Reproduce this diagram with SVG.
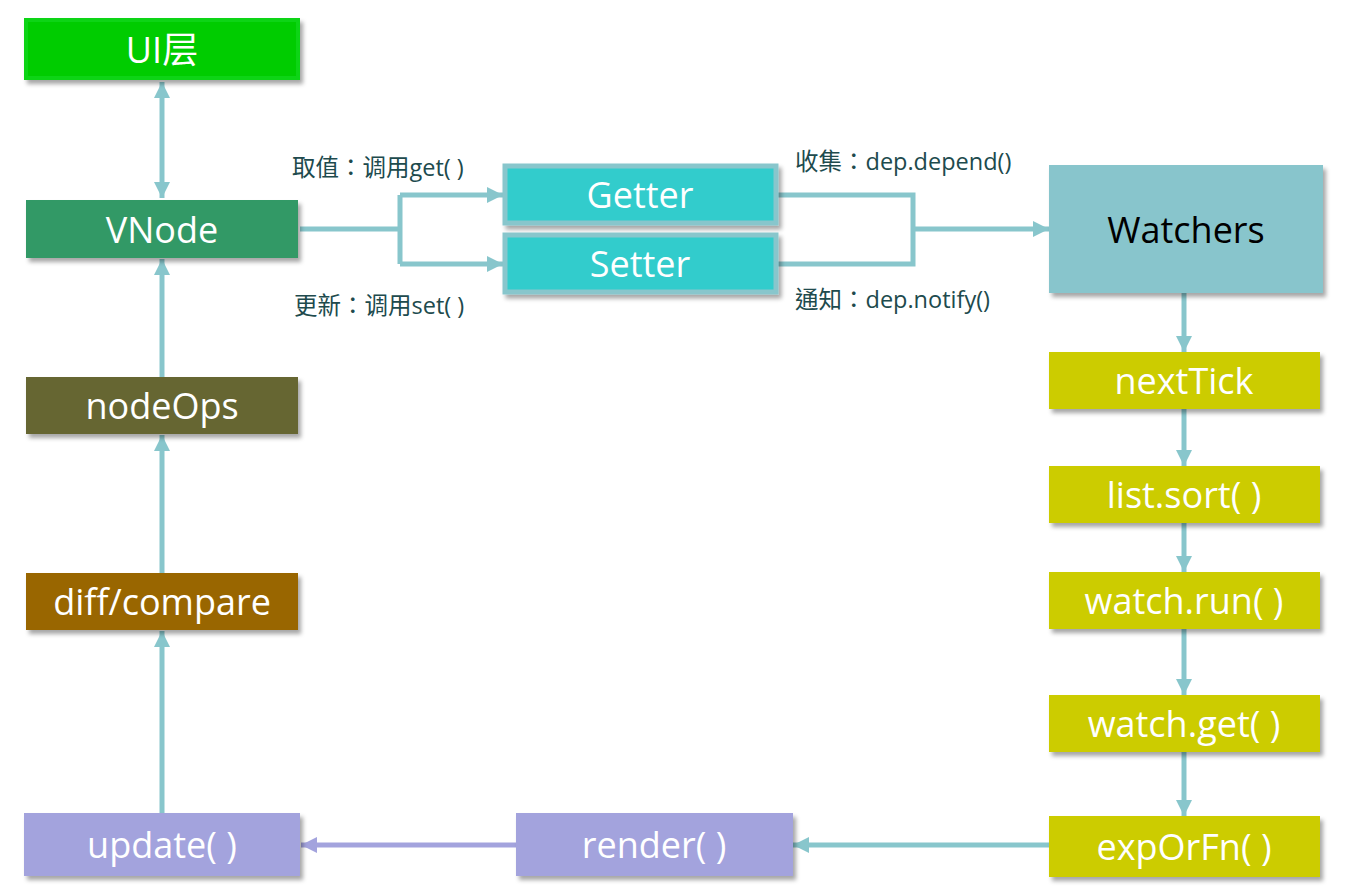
<svg xmlns="http://www.w3.org/2000/svg" width="1346" height="895" viewBox="0 0 1346 895">
<style>
.t{font-family:"Open Sans","Noto Sans","Noto Sans CJK SC",sans-serif;font-size:36px;fill:#fff;text-anchor:middle;dominant-baseline:central}
.lbl{font-family:"Open Sans","Noto Sans CJK TC","Noto Sans CJK SC",sans-serif;font-size:23.5px;fill:#204a4d}
.c{fill:none;stroke:#88c6cc;stroke-width:5}
.cp{fill:none;stroke:#a3a3dd;stroke-width:5}
</style>
<defs>
<filter id="sh" x="-5%" y="-10%" width="115%" height="130%">
<feDropShadow dx="3" dy="4" stdDeviation="2" flood-color="#000" flood-opacity="0.35"/>
</filter>
<marker id="a" viewBox="0 0 16 16" refX="16" refY="8" markerWidth="16" markerHeight="16" markerUnits="userSpaceOnUse" orient="auto-start-reverse">
<path d="M0,0 L16,8 L0,16 Z" fill="#88c6cc"/>
</marker>
<marker id="ap" viewBox="0 0 16 16" refX="16" refY="8" markerWidth="16" markerHeight="16" markerUnits="userSpaceOnUse" orient="auto">
<path d="M0,0 L16,8 L0,16 Z" fill="#a3a3dd"/>
</marker>
</defs>
<rect width="1346" height="895" fill="#fff"/>

<g id="connectors">
<path class="c" d="M162,82 V198" marker-start="url(#a)" marker-end="url(#a)"/>
<path class="c" d="M300,229 H400 M400,195 V264"/>
<path class="c" d="M400,195 H503" marker-end="url(#a)"/>
<path class="c" d="M400,264 H503" marker-end="url(#a)"/>
<path class="c" d="M778,195 H913 V264 H778"/>
<path class="c" d="M913,229 H1049" marker-end="url(#a)"/>
<path class="c" d="M1184,293 V352" marker-end="url(#a)"/>
<path class="c" d="M1184,409 V466" marker-end="url(#a)"/>
<path class="c" d="M1184,523 V572" marker-end="url(#a)"/>
<path class="c" d="M1184,629 V695" marker-end="url(#a)"/>
<path class="c" d="M1184,752 V816" marker-end="url(#a)"/>
<path class="c" d="M1049,845 H793" marker-end="url(#a)"/>
<path class="cp" d="M516,845 H301" marker-end="url(#ap)"/>
<path class="c" d="M162,813 V631" marker-end="url(#a)"/>
<path class="c" d="M162,573 V435" marker-end="url(#a)"/>
<path class="c" d="M162,377 V259" marker-end="url(#a)"/>
</g>

<g id="labels">
<text class="lbl" x="292" y="176">取值：调用get( )</text>
<text class="lbl" x="294" y="314">更新：调用set( )</text>
<text class="lbl" x="795" y="170">收集：dep.depend()</text>
<text class="lbl" x="795" y="308">通知：dep.notify()</text>
</g>

<g id="ui"><rect x="26" y="20" width="272" height="58" fill="#00cc00" stroke="#10d418" stroke-width="4" filter="url(#sh)"/><text class="t" x="162" y="49">UI层</text></g>
<g id="vnode"><rect x="26" y="200" width="272" height="58" fill="#339966" filter="url(#sh)"/><text class="t" x="162" y="229">VNode</text></g>
<g id="nodeops"><rect x="26" y="377" width="272" height="57" fill="#666633" filter="url(#sh)"/><text class="t" x="162" y="405">nodeOps</text></g>
<g id="diff"><rect x="26" y="573" width="272" height="57" fill="#996600" filter="url(#sh)"/><text class="t" x="162" y="601">diff/compare</text></g>
<g id="update"><rect x="24" y="813" width="276" height="63" fill="#a3a3dd" filter="url(#sh)"/><text class="t" x="162" y="844">update( )</text></g>
<g id="render"><rect x="516" y="813" width="277" height="63" fill="#a3a3dd" filter="url(#sh)"/><text class="t" x="654" y="844">render( )</text></g>
<g id="getter"><rect x="505" y="166" width="271" height="57" fill="#33cccc" stroke="#88c6cc" stroke-width="5" filter="url(#sh)"/><text class="t" x="640" y="194">Getter</text></g>
<g id="setter"><rect x="505" y="235" width="271" height="57" fill="#33cccc" stroke="#88c6cc" stroke-width="5" filter="url(#sh)"/><text class="t" x="640" y="263">Setter</text></g>
<g id="watchers"><rect x="1049" y="165" width="274" height="128" fill="#88c5cc" filter="url(#sh)"/><text class="t" x="1186" y="229" style="fill:#000">Watchers</text></g>
<g id="nexttick"><rect x="1049" y="352" width="271" height="57" fill="#cccc00" filter="url(#sh)"/><text class="t" x="1184" y="380">nextTick</text></g>
<g id="listsort"><rect x="1049" y="466" width="271" height="57" fill="#cccc00" filter="url(#sh)"/><text class="t" x="1184" y="494">list.sort( )</text></g>
<g id="watchrun"><rect x="1049" y="572" width="271" height="57" fill="#cccc00" filter="url(#sh)"/><text class="t" x="1184" y="600">watch.run( )</text></g>
<g id="watchget"><rect x="1049" y="695" width="271" height="57" fill="#cccc00" filter="url(#sh)"/><text class="t" x="1184" y="723">watch.get( )</text></g>
<g id="exporfn"><rect x="1049" y="816" width="271" height="61" fill="#cccc00" filter="url(#sh)"/><text class="t" x="1184" y="846">expOrFn( )</text></g>
</svg>
